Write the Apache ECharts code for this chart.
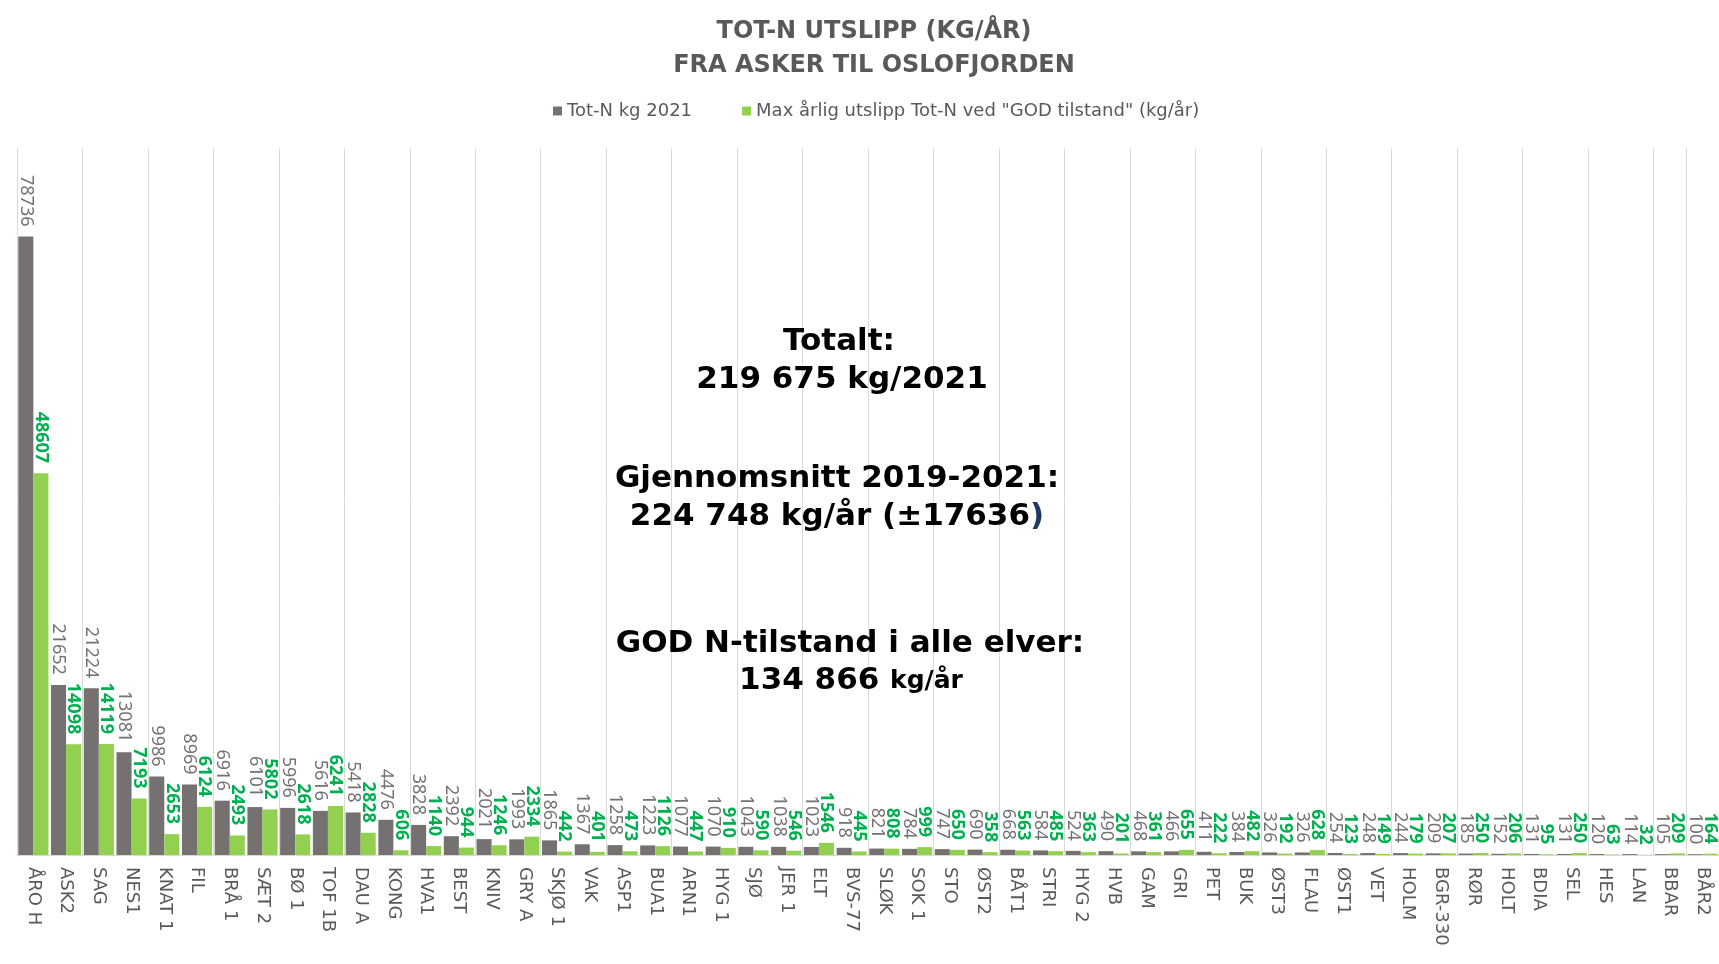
<!DOCTYPE html>
<html>
<head>
<meta charset="utf-8">
<title>Tot-N utslipp</title>
<script src="https://cdn.jsdelivr.net/npm/echarts@6/dist/echarts.min.js"></script>
<style>
  html, body { margin: 0; padding: 0; background: #fff; }
  #chart { width: 1719px; height: 964px; }
</style>
</head>
<body>
<div id="chart"></div>
<script>
// stasjoner, sortert etter utslipp 2021
const categories = [
  'ÅRO H', 'ASK2', 'SAG', 'NES1', 'KNAT 1', 'FIL', 'BRÅ 1', 'SÆT 2', 'BØ 1', 'TOF 1B',
  'DAU A', 'KONG', 'HVA1', 'BEST', 'KNIV', 'GRY A', 'SKJØ 1', 'VAK', 'ASP1', 'BUA1',
  'ARN1', 'HYG 1', 'SJØ', 'JER 1', 'ELT', 'BVS-77', 'SLØK', 'SOK 1', 'STO', 'ØST2',
  'BÅT1', 'STRI', 'HYG 2', 'HVB', 'GAM', 'GRI', 'PET', 'BUK', 'ØST3', 'FLAU',
  'ØST1', 'VET', 'HOLM', 'BGR-330', 'RØR', 'HOLT', 'BDIA', 'SEL', 'HES', 'LAN',
  'BBAR', 'BÅR2'
]

// Tot-N kg 2021
const totN2021 = [
  78736, 21652, 21224, 13081, 9986, 8969, 6916, 6101, 5996, 5616,
  5418, 4476, 3828, 2392, 2021, 1993, 1865, 1367, 1258, 1223,
  1077, 1070, 1043, 1038, 1023, 918, 821, 784, 747, 690,
  668, 584, 524, 490, 468, 466, 411, 384, 326, 326,
  254, 248, 244, 209, 185, 152, 131, 131, 120, 114,
  105, 100
]

// Max årlig utslipp ved GOD tilstand
const maxGod = [
  48607, 14098, 14119, 7193, 2653, 6124, 2493, 5802, 2618, 6241,
  2828, 606, 1140, 944, 1246, 2334, 442, 401, 473, 1126,
  447, 910, 590, 546, 1546, 445, 808, 999, 650, 358,
  563, 485, 363, 201, 361, 655, 222, 482, 192, 628,
  123, 149, 179, 207, 250, 206, 95, 250, 63, 32,
  209, 164
]

const seriesNames = ['Tot-N kg 2021', 'Max årlig utslipp Tot-N ved "GOD tilstand" (kg/år)']

var chart = echarts.init(document.getElementById('chart'))

function barLabel(color, weight) {
  return {
    show: true,
    position: 'top',
    rotate: -90,
    align: 'right',
    verticalAlign: 'middle',
    distance: 10,
    fontFamily: 'Noto Sans',
    fontSize: 18,
    fontWeight: weight,
    color: color
  }
}

function bigText(x, y, text, rich) {
  return {
    type: 'text',
    x: x,
    y: y,
    z: 100,
    style: {
      text: text,
      fontFamily: 'DejaVu Sans',
      fontWeight: 'bold',
      fontSize: 31,
      fill: '#000',
      textAlign: 'center',
      textVerticalAlign: 'middle',
      rich: rich
    }
  }
}

const titleStyle = { fontFamily: 'DejaVu Sans', fontWeight: 'bold', fontSize: 24, color: '#595959' }

chart.setOption({
  animation: false,
  backgroundColor: '#fff',
  title: [
    { text: 'TOT-N UTSLIPP (KG/ÅR)', left: 869, textAlign: 'center', top: 15, textStyle: titleStyle },
    { text: 'FRA ASKER TIL OSLOFJORDEN', left: 869, textAlign: 'center', top: 49, textStyle: titleStyle }
  ],
  legend: {
    data: seriesNames,
    left: 548,
    top: 97,
    itemWidth: 9,
    itemHeight: 9,
    itemGap: 50,
    icon: 'rect',
    textStyle: { fontFamily: 'DejaVu Sans', fontSize: 18, color: '#595959' }
  },
  grid: {
    left: 17,
    right: 0,
    top: 148,
    bottom: 109
  },
  xAxis: {
    type: 'category',
    data: categories,
    axisTick: { show: false },
    axisLine: { lineStyle: { color: '#d9d9d9', width: 1 } },
    axisLabel: {
      interval: 0,
      rotate: -90,
      margin: 12,
      fontFamily: 'DejaVu Sans',
      fontSize: 18,
      color: '#595959'
    },
    splitLine: {
      show: true,
      interval: 1,
      lineStyle: { color: '#d9d9d9', width: 1 }
    }
  },
  yAxis: {
    type: 'value',
    min: 0,
    max: 90000,
    show: false
  },
  series: [
    {
      name: seriesNames[0],
      type: 'bar',
      data: totN2021,
      barGap: '0%',
      barCategoryGap: '8%',
      itemStyle: { color: '#767171' },
      label: barLabel('#757171', 'normal')
    },
    {
      name: seriesNames[1],
      type: 'bar',
      data: maxGod,
      barGap: '0%',
      barCategoryGap: '8%',
      itemStyle: { color: '#92d050' },
      label: barLabel('#00b050', 'bold')
    }
  ],
  graphic: [
    bigText(839, 342, 'Totalt:'),
    bigText(842, 380, '219 675 kg/2021'),
    bigText(837, 479, 'Gjennomsnitt 2019-2021:'),
    bigText(837, 517, '{a|224 748 kg/år (±17636}{b|)}', {
      a: { fontFamily: 'DejaVu Sans', fontWeight: 'bold', fontSize: 31, fill: '#000' },
      b: { fontFamily: 'DejaVu Sans', fontWeight: 'bold', fontSize: 31, fill: '#1f3864' }
    }),
    bigText(850, 644, 'GOD N-tilstand i alle elver:'),
    bigText(851, 681, '{a|134 866} {b|kg/år}', {
      a: { fontFamily: 'DejaVu Sans', fontWeight: 'bold', fontSize: 31, fill: '#000' },
      b: { fontFamily: 'DejaVu Sans', fontWeight: 'bold', fontSize: 25, fill: '#000' }
    })
  ]
})
</script>
</body>
</html>
